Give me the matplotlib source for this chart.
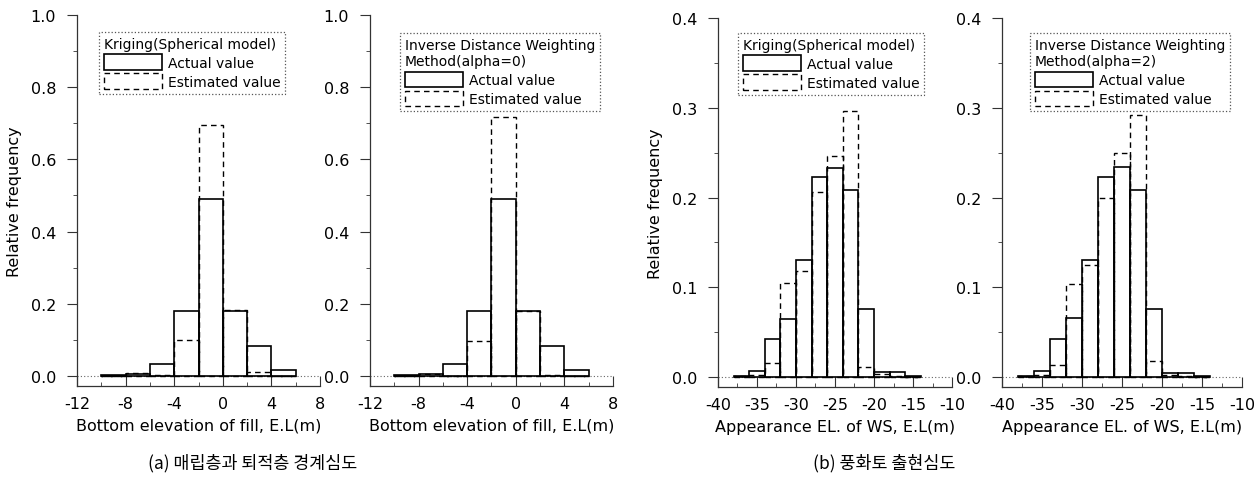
import matplotlib
matplotlib.use("Agg")
import matplotlib.pyplot as plt
from matplotlib.patches import Patch
from matplotlib.ticker import MultipleLocator
import numpy as np

plt.rcParams['font.family'] = ['DejaVu Sans']
plt.rcParams['axes.unicode_minus'] = False

# ---- data ----
fill_edges = [-10, -8, -6, -4, -2, 0, 2, 4, 6]
kr_fill_actual = [0.002, 0.005, 0.034, 0.179, 0.489, 0.181, 0.083, 0.015]
kr_fill_est = [0.0, 0.008, 0.002, 0.100, 0.695, 0.183, 0.010, 0.0]
idw_fill_actual = [0.002, 0.005, 0.034, 0.179, 0.489, 0.181, 0.083, 0.015]
idw_fill_est = [0.0, 0.006, 0.001, 0.097, 0.717, 0.180, 0.003, 0.0]

ws_edges = [-38, -36, -34, -32, -30, -28, -26, -24, -22, -20, -18, -16, -14]
kr_ws_actual = [0.001, 0.007, 0.042, 0.065, 0.130, 0.223, 0.233, 0.208, 0.076, 0.006, 0.006, 0.001]
kr_ws_est = [0.001, 0.002, 0.016, 0.105, 0.118, 0.206, 0.246, 0.296, 0.011, 0.003, 0.001, 0.0]
idw_ws_actual = [0.001, 0.007, 0.043, 0.066, 0.131, 0.223, 0.234, 0.208, 0.076, 0.005, 0.005, 0.001]
idw_ws_est = [0.001, 0.002, 0.014, 0.104, 0.125, 0.199, 0.250, 0.292, 0.018, 0.002, 0.001, 0.0]

legend_titles = ["Kriging(Spherical model)",
                 "Inverse Distance Weighting\nMethod(alpha=0)",
                 "Kriging(Spherical model)",
                 "Inverse Distance Weighting\nMethod(alpha=2)"]
legend_labels = ["Actual value", "Estimated value"]
fill_xlabel = "Bottom elevation of fill, E.L(m)"
ws_xlabel = "Appearance EL. of WS, E.L(m)"
ylabel = "Relative frequency"
caption_a = "(a) 매립층과 퇴적층 경계심도"
caption_b = "(b) 풍화토 출현심도"

W, H = 1259, 481
fig = plt.figure(figsize=(W / 100, H / 100), dpi=100)

def px_axes(left, top, right, bottom):
    return fig.add_axes([left / W, 1 - bottom / H, (right - left) / W, (bottom - top) / H])

panels = [
    dict(box=(77, 16, 320, 387), edges=fill_edges, act=kr_fill_actual, est=kr_fill_est,
         xlim=(-12, 8), xstep=4, ylim=(-0.028, 1.0), ystep=0.2, yminor=0.1, xlabel=fill_xlabel,
         leg=(99, 33), ylab=True, yfmt="{:.1f}"),
    dict(box=(370, 16, 613, 387), edges=fill_edges, act=idw_fill_actual, est=idw_fill_est,
         xlim=(-12, 8), xstep=4, ylim=(-0.028, 1.0), ystep=0.2, yminor=0.1, xlabel=fill_xlabel,
         leg=(400, 34), ylab=False, yfmt="{:.1f}"),
    dict(box=(718, 19, 952, 388), edges=ws_edges, act=kr_ws_actual, est=kr_ws_est,
         xlim=(-40, -10), xstep=5, ylim=(-0.011, 0.4), ystep=0.1, yminor=0.05, xlabel=ws_xlabel,
         leg=(738, 34), ylab=True, yfmt="{:.1f}"),
    dict(box=(1002, 19, 1242, 388), edges=ws_edges, act=idw_ws_actual, est=idw_ws_est,
         xlim=(-40, -10), xstep=5, ylim=(-0.011, 0.4), ystep=0.1, yminor=0.05, xlabel=ws_xlabel,
         leg=(1030, 34), ylab=False, yfmt="{:.1f}"),
]

spine_col = '#333333'
for i, p in enumerate(panels):
    ax = px_axes(*p['box'])
    e = np.array(p['edges'], dtype=float)
    w = np.diff(e)
    ax.axhline(0, color='#666666', lw=0.8, ls=(0, (1, 2)), zorder=1)
    ax.bar(e[:-1], p['est'], width=w, align='edge', fill=False, edgecolor='black',
           lw=1.0, ls=(0, (4, 3)), zorder=2)
    ax.bar(e[:-1], p['act'], width=w, align='edge', fill=False, edgecolor='black',
           lw=1.2, zorder=3)
    ax.set_xlim(*p['xlim'])
    ax.set_ylim(*p['ylim'])
    ax.set_xticks(np.arange(p['xlim'][0], p['xlim'][1] + 0.1, p['xstep']))
    ax.set_xticklabels([str(int(v)) for v in ax.get_xticks()])
    yt = np.arange(0, p['ylim'][1] + 1e-9, p['ystep'])
    ax.set_yticks(yt)
    ax.set_yticklabels([p['yfmt'].format(v) for v in yt])
    ax.yaxis.set_minor_locator(MultipleLocator(p['yminor']))
    ax.xaxis.set_minor_locator(MultipleLocator(p['xstep'] / 2))
    for s in ['top', 'right']:
        ax.spines[s].set_visible(False)
    for s in ['left', 'bottom']:
        ax.spines[s].set_color(spine_col)
        ax.spines[s].set_linewidth(0.9)
    ax.tick_params(axis='y', which='major', direction='out', length=7, width=0.8,
                   pad=8, labelsize=11.5, colors=spine_col, labelcolor='black')
    ax.tick_params(axis='y', which='minor', direction='out', length=3, width=0.6, colors=spine_col)
    ax.tick_params(axis='x', which='major', direction='in', length=7, width=0.8,
                   pad=7, labelsize=11.5, colors=spine_col, labelcolor='black')
    ax.tick_params(axis='x', which='minor', direction='in', length=3, width=0.6, colors=spine_col)
    ax.set_xlabel(p['xlabel'], fontsize=11.5, labelpad=5)
    if p['ylab']:
        ax.set_ylabel(ylabel, fontsize=11.5, labelpad=6)
    ax.patch.set_visible(False)

    handles = [Patch(facecolor='none', edgecolor='black', lw=1.2),
               Patch(facecolor='none', edgecolor='black', lw=1.0, ls=(0, (4, 3)))]
    lx, ly = p['leg']
    leg = ax.legend(handles, legend_labels, title=legend_titles[i],
                    loc='upper left', bbox_to_anchor=(lx / W, 1 - ly / H),
                    bbox_transform=fig.transFigure, borderaxespad=0,
                    fontsize=10, title_fontsize=10, handlelength=4.2, handleheight=1.35,
                    handletextpad=0.4, labelspacing=0.25, borderpad=0.35,
                    fancybox=False, framealpha=1, alignment='left')
    fr = leg.get_frame()
    fr.set_edgecolor('#555555')
    fr.set_linestyle(':')
    fr.set_linewidth(0.9)

cap_font = ['Noto Sans CJK KR', 'DejaVu Sans']
fig.text(253 / W, 1 - 463 / H, caption_a, ha='center', va='center', fontsize=12.5,
         family=cap_font, weight='medium')
fig.text(884 / W, 1 - 463 / H, caption_b, ha='center', va='center', fontsize=12.5,
         family=cap_font, weight='medium')

fig.savefig("out.png", dpi=100)
